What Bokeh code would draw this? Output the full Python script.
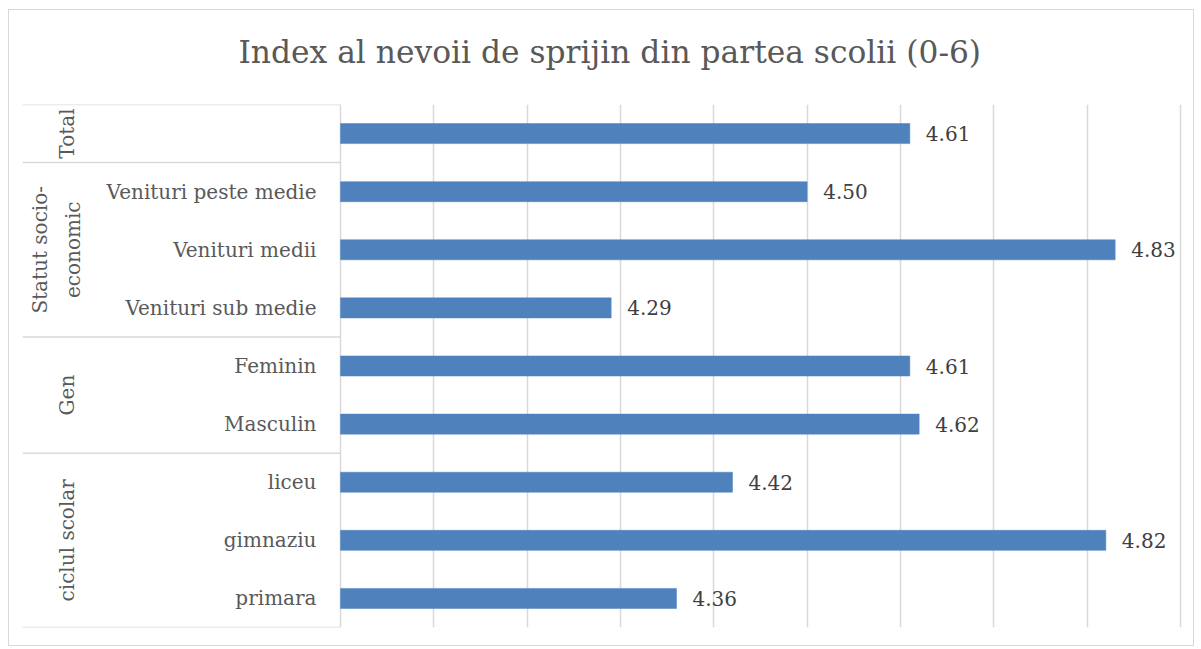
import math
from bokeh.plotting import figure
from bokeh.models import FactorRange, Range1d, FixedTicker, ColumnDataSource, Title
from bokeh.core.properties import value
from bokeh.embed import file_html
from bokeh.resources import INLINE

# ---------------- data ----------------
TITLE = "Index al nevoii de sprijin din partea scolii (0-6)"
CATEGORY_GROUP = ["Total",
                  "Statut socio-\neconomic", "Statut socio-\neconomic", "Statut socio-\neconomic",
                  "Gen", "Gen",
                  "ciclul scolar", "ciclul scolar", "ciclul scolar"]
CATEGORIES = ["", "Venituri peste medie", "Venituri medii", "Venituri sub medie",
              "Feminin", "Masculin", "liceu", "gimnaziu", "primara"]
VALUES = [4.61, 4.50, 4.83, 4.29, 4.61, 4.62, 4.42, 4.82, 4.36]
XTICKS = [4.0, 4.1, 4.2, 4.3, 4.4, 4.5, 4.6, 4.7, 4.8, 4.9]
XMIN, XMAX = 4.0, 4.9

# ---------------- layout constants (pixels) ----------------
W, H = 1186, 637
MB_LEFT, MB_RIGHT, MB_TOP, MB_BOTTOM = 13, 12, 94, 20
FRAME_W = W - MB_LEFT - MB_RIGHT
AXIS_OFFSET = 318          # px from frame left to the value axis
GRID_SPAN = 840            # px between XMIN and XMAX
px_per_unit = GRID_SPAN / (XMAX - XMIN)
x_start = XMIN - AXIS_OFFSET / px_per_unit
x_end = XMIN + (FRAME_W - AXIS_OFFSET) / px_per_unit

FONT = value("DejaVu Serif")
BAR_COLOR = "#4F81BD"
GRID_COLOR = "#d9d9d9"
TEXT_COLOR = "#595959"
LABEL_COLOR = "#404040"

# bottom-to-top order for the y range
factors = list(zip(CATEGORY_GROUP, CATEGORIES))[::-1]
vals_rev = VALUES[::-1]

y_range = FactorRange(factors=factors, factor_padding=0, group_padding=0,
                      subgroup_padding=0, range_padding=0)

p = figure(width=W, height=H, x_range=Range1d(x_start, x_end), y_range=y_range,
           output_backend="svg", toolbar_location=None, title=None,
           min_border_left=MB_LEFT, min_border_right=MB_RIGHT,
           min_border_top=MB_TOP, min_border_bottom=MB_BOTTOM)
p.margin = (9, 0, 0, 8)
p.styles = {"border": "1px solid #d9d9d9"}

# spacer between plot area and title, then the title itself
p.add_layout(Title(text=" ", text_font_size="1px", standoff=19), "above")
p.add_layout(Title(text=TITLE, align="left", offset=216,
                   text_font="DejaVu Serif", text_font_size="31.3px",
                   text_font_style="normal", text_color=TEXT_COLOR,
                   standoff=26), "above")

p.outline_line_color = None
p.xaxis.visible = False
p.yaxis.visible = False
p.ygrid.visible = False
p.xgrid.ticker = FixedTicker(ticks=XTICKS)
p.xgrid.grid_line_color = GRID_COLOR
p.xgrid.grid_line_width = 1.5

src = ColumnDataSource(dict(y=factors, v=vals_rev,
                            lbl=[f"{v:.2f}" for v in vals_rev],
                            cat=[f[1] for f in factors]))

p.hbar(y="y", left=XMIN, right="v", height=0.345, source=src,
       fill_color=BAR_COLOR, line_color=BAR_COLOR, line_width=0.5)

# value labels
p.text(x="v", y="y", text="lbl", source=src, x_offset=16,
       text_align="left", text_baseline="middle", text_font=FONT,
       text_font_size="20px", text_color=LABEL_COLOR)

# category labels (inner level)
p.text(x=XMIN, y="y", text="cat", source=src, x_offset=-24,
       text_align="right", text_baseline="middle", text_font=FONT,
       text_font_size="20px", text_color=TEXT_COLOR)

# group labels (outer level), rotated
groups = []
for g in CATEGORY_GROUP:
    if g not in groups:
        groups.append(g)
g_off = [-274 - 10 * g.count("\n") for g in groups]
gsrc = ColumnDataSource(dict(y=groups, t=groups, off=g_off))
p.text(x=XMIN, y="y", text="t", source=gsrc, x_offset="off", angle=math.pi / 2,
       text_align="center", text_baseline="middle", text_font=FONT,
       text_font_size="20px", text_color=TEXT_COLOR, text_line_height=1.35)

# group separators
rev_groups = [f[0] for f in factors]
bounds = [0] + [i for i in range(1, len(rev_groups)) if rev_groups[i] != rev_groups[i - 1]] + [len(rev_groups)]
p.segment(x0=[x_start] * len(bounds), x1=[XMIN] * len(bounds), y0=bounds, y1=bounds,
          line_color=GRID_COLOR, line_width=1.5)

open("out.html", "w").write(file_html(p, INLINE))
